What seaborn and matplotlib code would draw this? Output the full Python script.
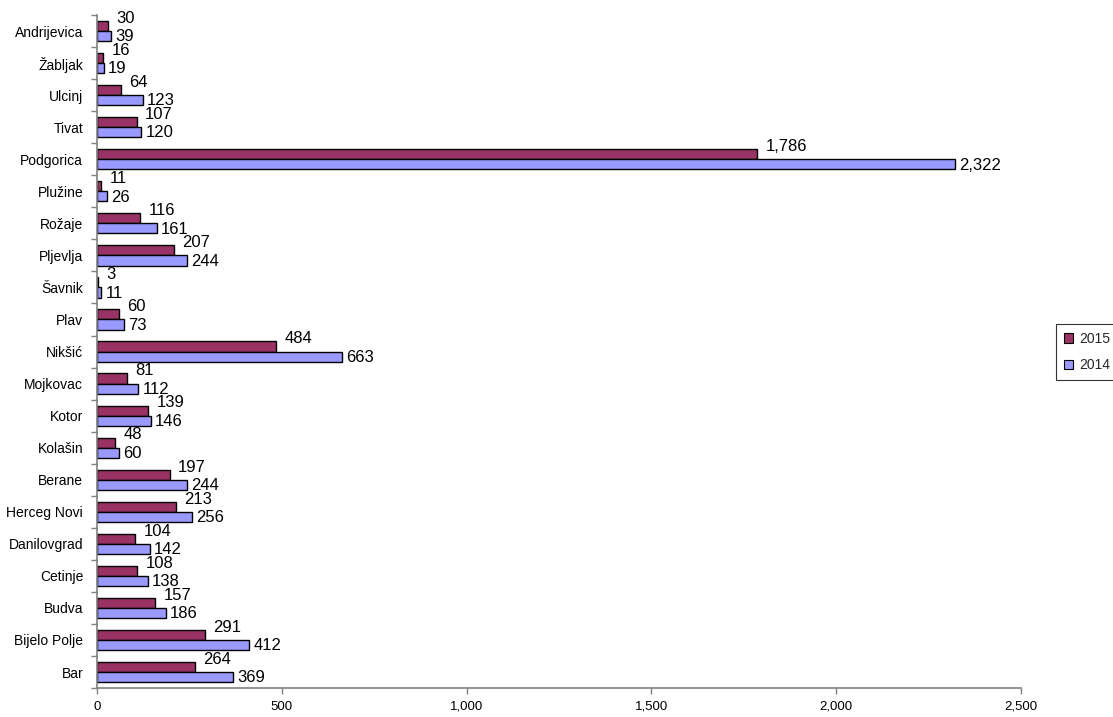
import pandas as pd
import matplotlib.pyplot as plt
import seaborn as sns
from matplotlib.ticker import FuncFormatter, FixedLocator

# Data (top to bottom as drawn)
towns = ['Andrijevica', 'Žabljak', 'Ulcinj', 'Tivat', 'Podgorica', 'Plužine',
         'Rožaje', 'Pljevlja', 'Šavnik', 'Plav', 'Nikšić', 'Mojkovac', 'Kotor',
         'Kolašin', 'Berane', 'Herceg Novi', 'Danilovgrad', 'Cetinje', 'Budva',
         'Bijelo Polje', 'Bar']
values_2015 = [30, 16, 64, 107, 1786, 11, 116, 207, 3, 60, 484, 81, 139,
               48, 197, 213, 104, 108, 157, 291, 264]
values_2014 = [39, 19, 123, 120, 2322, 26, 161, 244, 11, 73, 663, 112, 146,
               60, 244, 256, 142, 138, 186, 412, 369]
years = ['2015', '2014']
x_ticks = [0, 500, 1000, 1500, 2000, 2500]

data = pd.DataFrame({
    'Town': towns * 2,
    'Year': ['2015'] * len(towns) + ['2014'] * len(towns),
    'Value': values_2015 + values_2014,
})

sns.set_style('white')
plt.rcParams['font.family'] = ['Liberation Sans', 'DejaVu Sans']

fig = plt.figure(figsize=(11.13, 7.17), dpi=100)
ax = fig.add_axes([0.0872, 0.0404, 0.8302, 0.9386])

sns.barplot(data=data, y='Town', x='Value', hue='Year', order=towns,
            hue_order=years, palette=['#993366', '#9999FF'], orient='h',
            width=0.63, edgecolor='black', linewidth=1.0, saturation=1,
            legend=False, ax=ax)

# value labels
fmt = lambda v: f'{int(v):,}'
for cont, dy, dx in zip(ax.containers, [5.5, -0.5], [6, 3]):
    for bar in cont:
        w = bar.get_width()
        ax.annotate(fmt(w), (w, bar.get_y() + bar.get_height() / 2),
                    xytext=(dx, dy), textcoords='offset points',
                    ha='left', va='center', fontsize=12, color='black')

ax.set_xlim(0, 2500)
ax.set_ylim(len(towns) - 0.5, -0.5)
ax.xaxis.set_major_locator(FixedLocator(x_ticks))
ax.xaxis.set_major_formatter(FuncFormatter(lambda v, p: f'{int(v):,}'))
ax.tick_params(axis='x', labelsize=9.5, length=4, width=1, color='#808080',
               direction='out', bottom=True, pad=5, labelcolor='black')

# y ticks between categories
ax.yaxis.set_minor_locator(FixedLocator([i - 0.5 for i in range(len(towns) + 1)]))
ax.tick_params(axis='y', which='major', length=0, labelsize=10, pad=10,
               labelcolor='black')
ax.tick_params(axis='y', which='minor', length=4, width=1, color='#808080',
               direction='out', left=True)

ax.set_xlabel('')
ax.set_ylabel('')
for s in ['top', 'right']:
    ax.spines[s].set_visible(False)
for s in ['left', 'bottom']:
    ax.spines[s].set_color('#808080')
    ax.spines[s].set_linewidth(1.2)

# legend
handles = [plt.Rectangle((0, 0), 1, 1, facecolor=c, edgecolor='black', linewidth=0.8)
           for c in ['#993366', '#9999FF']]
leg = fig.legend(handles, years, loc='center left',
                 bbox_to_anchor=(1056 / 1113, 0.509), frameon=True,
                 fancybox=False, fontsize=10, handlelength=0.7, handleheight=0.7,
                 handletextpad=0.4, borderpad=0.55, labelspacing=0.9,
                 borderaxespad=0)
leg.get_frame().set_edgecolor('black')
leg.get_frame().set_linewidth(0.8)

fig.savefig('out.png', dpi=100)
